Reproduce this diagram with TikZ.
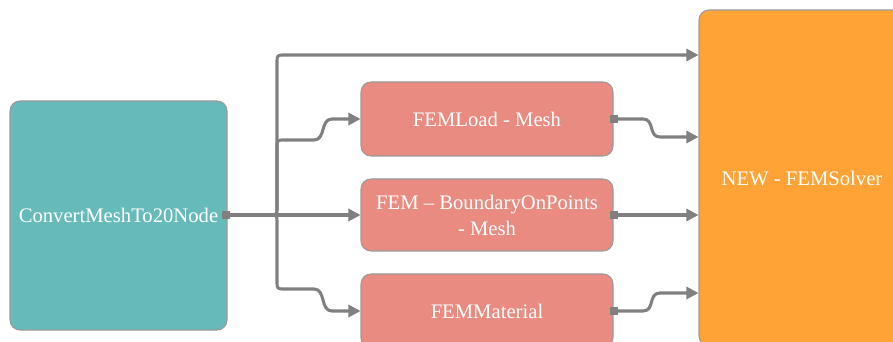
\documentclass[tikz,border=0pt]{standalone}
\usepackage{fontspec}
\setmainfont{Liberation Serif}
\newfontfamily\labelfont{Liberation Serif}
\usetikzlibrary{arrows.meta}
\definecolor{tealbox}{HTML}{66BBBA}
\definecolor{pinkbox}{HTML}{E98B81}
\definecolor{orangebox}{HTML}{FFA336}
\definecolor{wire}{HTML}{808080}
\definecolor{rim}{HTML}{9A9A9A}
\tikzset{
  block/.style={draw=rim, line width=0.8pt, rounded corners=7.5pt, text=white,
    font=\labelfont\fontsize{15.5}{18.5}\selectfont, align=center, inner sep=0pt},
  port/.style={fill=wire, draw=none, minimum size=6pt, inner sep=0pt},
  conn/.style={draw=wire, line width=2.3pt, line join=round,
    -{Triangle[length=9pt,width=9pt]}},
}
\begin{document}
\begin{tikzpicture}[x=0.75pt,y=-0.75pt]
\useasboundingbox (0,0) rectangle (893,342);
\begin{scope}
\clip (0,0) rectangle (893,342);
% blocks
\node[block, fill=tealbox, minimum width=162.75pt, minimum height=171.75pt] (conv) at (118.5,215.5) {ConvertMeshTo20Node};
\node[block, fill=pinkbox, minimum width=189pt, minimum height=55.5pt] (load) at (487,119) {FEMLoad - Mesh};
\node[block, fill=pinkbox, minimum width=189pt, minimum height=54pt] (bnd) at (487,215) {FEM – BoundaryOnPoints\\[1pt] - Mesh};
\node[block, fill=pinkbox, minimum width=189pt, minimum height=55.5pt] (mat) at (487,311) {FEMMaterial};
\node[block, fill=orangebox, minimum width=154.5pt, minimum height=252pt] (solver) at (802,178) {NEW - FEMSolver};

% output ports
\node[port] (p0) at (226,215) {};
\node[port] (p1) at (load.east) {};
\node[port] (p2) at (bnd.east) {};
\node[port] (p3) at (mat.east) {};

% fan-out from the mesh converter: each branch leaves the trunk with a rounded bend
\path[conn] (p0.center) -- (269,215) .. controls (277,215) .. (277,207)
  -- (277,63) .. controls (277,55) .. (285,55) -- (solver.west |- 0,55);
\path[conn] (p0.center) -- (269,215) .. controls (277,215) .. (277,207)
  -- (277,148) .. controls (277,140) .. (285,140) -- (314,140)
  .. controls (326,140) and (320,119) .. (332,119) -- (load.west |- 0,119);
\path[conn] (p0.center) -- (bnd.west);
\path[conn] (p0.center) -- (269,215) .. controls (277,215) .. (277,223)
  -- (277,281) .. controls (277,289) .. (285,289) -- (314,289)
  .. controls (326,289) and (320,311) .. (332,311) -- (mat.west |- 0,311);

% inputs of the solver
\path[conn] (p1.center) -- (643,119) .. controls (655,119) and (648,137) .. (660,137)
  -- (solver.west |- 0,137);
\path[conn] (p2.center) -- (solver.west |- p2);
\path[conn] (p3.center) -- (643,311) .. controls (655,311) and (648,293) .. (660,293)
  -- (solver.west |- 0,293);

% ports on top of the wires
\node[port] at (p0) {};
\node[port] at (p1) {};
\node[port] at (p2) {};
\node[port] at (p3) {};
\end{scope}
\end{tikzpicture}
\end{document}
